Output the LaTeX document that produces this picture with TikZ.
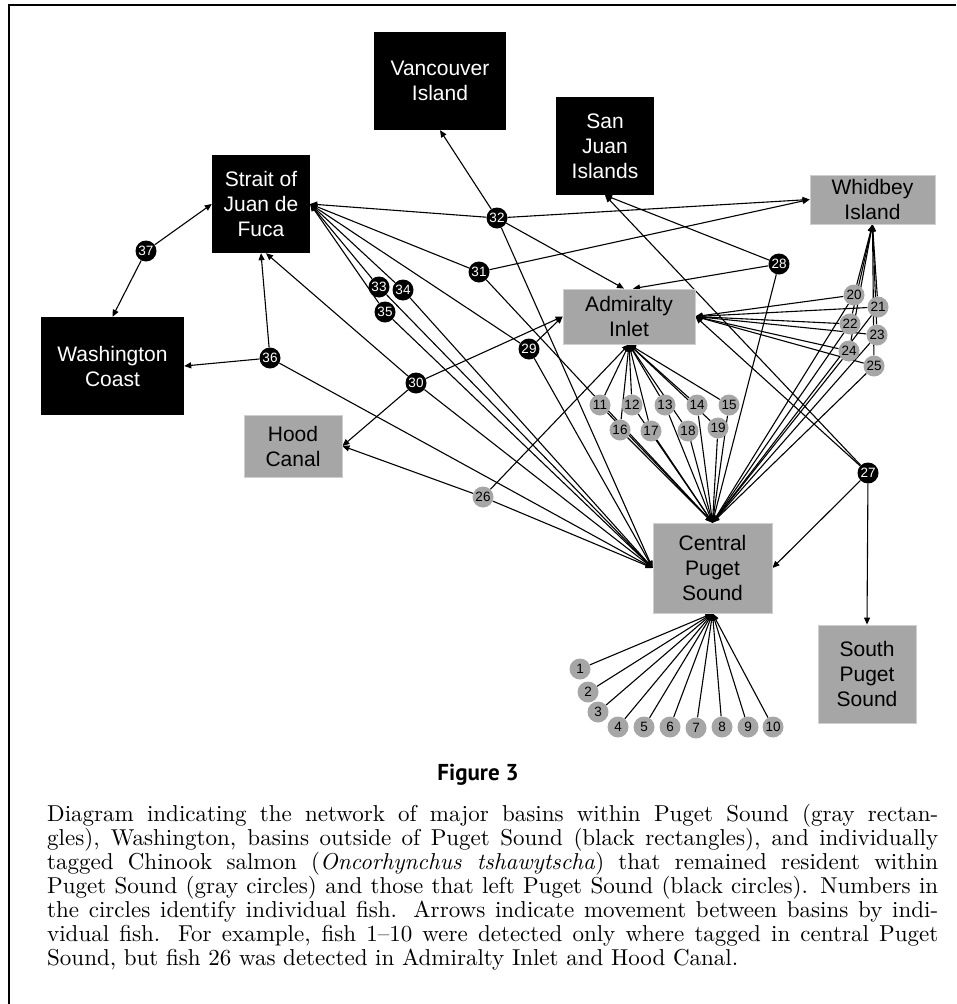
\documentclass[tikz,border=0pt]{standalone}
\usepackage{fontspec}
\setsansfont{Liberation Sans}
\newfontfamily\headfont{PT Sans}
\newfontfamily\captionfont[Extension=.otf,UprightFont=*-regular,ItalicFont=*-italic,Ligatures=TeX]{lmroman10}
\usetikzlibrary{arrows.meta,backgrounds}
\definecolor{basinGray}{HTML}{A6A6A6}
\definecolor{rimGray}{HTML}{CFCFCF}
\tikzset{
  >={Triangle[length=7pt,width=6pt]},
  outbasin/.style={rectangle,fill=black,text=white,align=center,inner sep=0pt,font=\sffamily\fontsize{21}{25}\selectfont},
  inbasin/.style ={rectangle,fill=basinGray,draw=rimGray,line width=0.8pt,text=black,align=center,inner sep=0pt,font=\sffamily\fontsize{21}{25}\selectfont},
  leftfish/.style={circle,fill=black,text=white,inner sep=0pt,minimum size=21pt,font=\sffamily\fontsize{13.5}{13.5}\selectfont},
  stayfish/.style={circle,fill=basinGray,text=black,inner sep=0pt,minimum size=21pt,font=\sffamily\fontsize{13.5}{13.5}\selectfont},
  trip/.style={->,line width=1.1pt},
}
\begin{document}
\begin{tikzpicture}[x=1pt,y=-1pt]
  \useasboundingbox (0,0) rectangle (956,1004);
  \draw[line width=1.6pt] (9,1004) -- (9,5) -- (956,5);

  % ---- basins outside Puget Sound ----
  \node[outbasin,minimum width=132pt,minimum height=98pt] (vi)  at (440,81)    {Vancouver\\Island};
  \node[outbasin,minimum width=98pt, minimum height=98pt] (sji) at (605,146)   {San\\Juan\\Islands};
  \node[outbasin,minimum width=98pt, minimum height=98pt] (sjf) at (261,204)   {Strait of\\Juan de\\Fuca};
  \node[outbasin,minimum width=143pt,minimum height=98pt] (wc)  at (112.5,366) {Washington\\Coast};

  % ---- basins within Puget Sound ----
  \node[inbasin,minimum width=98pt, minimum height=62pt] (hc)  at (293,446)   {Hood\\Canal};
  \node[inbasin,minimum width=125pt,minimum height=49pt] (wi)  at (872.5,199.5) {Whidbey\\Island};
  \node[inbasin,minimum width=132pt,minimum height=55pt] (ai)  at (629,316.5) {Admiralty\\Inlet};
  \node[inbasin,minimum width=119pt,minimum height=90pt] (cps) at (712.5,568) {Central\\Puget\\Sound};
  \node[inbasin,minimum width=98pt, minimum height=98pt] (sps) at (867,674)   {South\\Puget\\Sound};

  % ---- fish ----
  \foreach \n/\x/\y in {1/580/669,2/588/692,3/598/712,4/618/727,5/644/727,6/670/727,7/696/728,
      8/722/727,9/748/727,10/773/727,11/600/405,12/632/405,13/665/405,14/697/405,15/729/405,
      16/620/430,17/651/431,18/688/431,19/718/428,20/854/295,21/878/307,22/850/324,23/877/335,
      24/849/351,25/874/366,26/483/497}
    \node[stayfish] (f\n) at (\x,\y) {\n};
  \foreach \n/\x/\y in {27/868/473,28/779/264,29/529/349,30/416/383,31/479/272,32/497/218,
      33/379/287,34/403/290,35/385/312,36/270/358,37/146/251}
    \node[leftfish] (f\n) at (\x,\y) {\n};

  % ---- movements ----
  \begin{scope}[on background layer]
    \foreach \i in {1,...,10} \draw[trip] (f\i) -- (cps.south);
    \foreach \i in {11,...,19} {
      \draw[trip] (f\i) -- (ai.south);
      \draw[trip] (f\i) -- (cps.north);
    }
    \foreach \i in {20,...,25} {
      \draw[trip] (f\i) -- (wi.south);
      \draw[trip] (f\i) -- (ai.east);
      \draw[trip] (f\i) -- (cps.north);
    }
    \draw[trip] (f26) -- (hc.east);
    \draw[trip] (f26) -- (ai.south);
    \draw[trip] (f26) -- (cps.west);
    \draw[trip] (f27) -- (sji.south);
    \draw[trip] (f27) -- (ai.east);
    \draw[trip] (f27) -- (cps.east);
    \draw[trip] (f27) -- (sps.north);
    \draw[trip] (f28) -- (sji.south);
    \draw[trip] (f28) -- ([xshift=4pt]ai.north);
    \draw[trip] (f28) -- (cps.north);
    \draw[trip] (f29) -- (sjf.east);
    \draw[trip] (f29) -- (ai.west);
    \draw[trip] (f29) -- (cps.west);
    \draw[trip] (f30) -- ([xshift=5pt]sjf.south);
    \draw[trip] (f30) -- (hc.east);
    \draw[trip] (f30) -- (ai.west);
    \draw[trip] (f30) -- (cps.west);
    \draw[trip] (f31) -- (sjf.east);
    \draw[trip] (f31) -- (wi.west);
    \draw[trip] (f31) -- (cps.north);
    \draw[trip] (f32) -- (sjf.east);
    \draw[trip] (f32) -- (vi.south);
    \draw[trip] (f32) -- (wi.west);
    \draw[trip] (f32) -- ([xshift=-5pt]ai.north);
    \draw[trip] (f32) -- (cps.west);
    \foreach \i in {33,34,35} {
      \draw[trip] (f\i) -- (sjf.east);
      \draw[trip] (f\i) -- (cps.west);
    }
    \draw[trip] (f36) -- (sjf.south);
    \draw[trip] (f36) -- (wc.east);
    \draw[trip] (f36) -- (cps.west);
    \draw[trip] (f37) -- (sjf.west);
    \draw[trip] (f37) -- (wc.north);
  \end{scope}

  % ---- caption ----
  \node[font=\headfont\bfseries\fontsize{23}{23}\selectfont] (title) at (478,775) {Figure 3};
  \node[anchor=north west,inner sep=0pt,text width=891pt,align=justify,
        font=\captionfont\fontsize{23}{24}\selectfont] (caption) at (47,804)
   {Diagram indicating the network of major basins within Puget Sound (gray rectan-\linebreak
    gles), Washington, basins outside of Puget Sound (black rectangles), and individually\linebreak
    tagged Chinook salmon (\textit{Oncorhynchus tshawytscha}) that remained resident within\linebreak
    Puget Sound (gray circles) and those that left Puget Sound (black circles). Numbers in\linebreak
    the circles identify individual fish. Arrows indicate movement between basins by indi-\linebreak
    vidual fish. For example, fish 1\textendash10 were detected only where tagged in central Puget\linebreak
    Sound, but fish 26 was detected in Admiralty Inlet and Hood Canal.};
\end{tikzpicture}
\end{document}
